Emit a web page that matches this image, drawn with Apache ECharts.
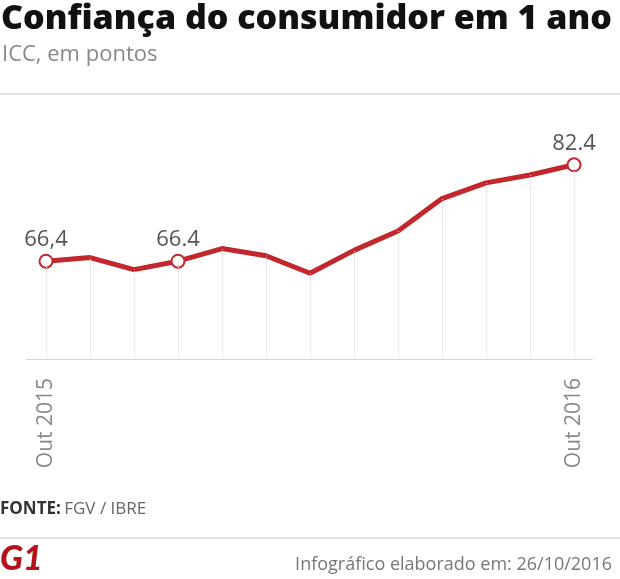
<!DOCTYPE html>
<html><head><meta charset="utf-8">
<script src="https://cdn.jsdelivr.net/npm/echarts@6/dist/echarts.min.js"></script>
<style>html,body{margin:0;padding:0;background:#fff}#c{width:620px;height:579px}</style>
</head><body><div id="c"></div>
<script>
const categories = ['Out 2015','Nov 2015','Dez 2015','Jan 2016','Fev 2016','Mar 2016','Abr 2016','Mai 2016','Jun 2016','Jul 2016','Ago 2016','Set 2016','Out 2016'];
const values = [66.4, 67.0, 65.0, 66.4, 68.5, 67.3, 64.4, 68.2, 71.4, 76.8, 79.4, 80.7, 82.4];
const pointLabels = ['66,4', null, null, '66.4', null, null, null, null, null, null, null, null, '82.4'];
const tickLabels = ['Out 2015','','','','','','','','','','','','Out 2016'];
const yMin = 50, yMax = 90;

const chart = echarts.init(document.getElementById('c'));
const red = '#c1272d';
chart.setOption({
  animation: false,
  grid: {left: 46, right: 46, top: 119, bottom: 219},
  xAxis: {
    type: 'category', data: categories, boundaryGap: false,
    axisLine: {show: false}, axisTick: {show: false}, splitLine: {show: false},
    axisLabel: {
      interval: 0, rotate: 90, margin: 18, color: '#888', fontSize: 21,
      fontFamily: 'Open Sans',
      formatter: (v, i) => tickLabels[i]
    }
  },
  yAxis: {type: 'value', min: yMin, max: yMax, show: false, splitLine: {show: false}},
  series: [{
    type: 'line', data: values.map((v, i) => ({
      value: v,
      symbolSize: pointLabels[i] ? 13 : 0,
      label: {show: !!pointLabels[i], formatter: pointLabels[i] || ''}
    })),
    symbol: 'circle', showAllSymbol: true,
    lineStyle: {color: red, width: 5},
    itemStyle: {color: '#fff', borderColor: red, borderWidth: 2},
    label: {position: 'top', distance: 3, color: '#555', fontSize: 22, fontFamily: 'Open Sans'},
    markLine: {
      silent: true, symbol: 'none', label: {show: false},
      lineStyle: {color: '#d8d8d8', type: 'dotted', width: 1},
      data: values.map((v, i) => [{coord: [i, yMin]}, {coord: [i, v]}])
    },
    z: 3
  }],
  graphic: [
    {type: 'text', left: 1, top: 2, style: {text: 'Confiança do consumidor em 1 ano', fontSize: 34, fontWeight: 800, fontFamily: 'Open Sans', fill: '#111'}},
    {type: 'text', left: 2, top: 44, style: {text: 'ICC, em pontos', fontSize: 22, fontFamily: 'Open Sans', fill: '#888'}},
    {type: 'rect', shape: {x: 0, y: 93, width: 620, height: 2}, style: {fill: '#e4e4e4'}},
    {type: 'rect', shape: {x: 26, y: 359, width: 567, height: 1}, style: {fill: '#d4d4d4'}},
    {type: 'text', left: 0, top: 501, style: {
      text: '{b|FONTE:} {n|FGV / IBRE}',
      rich: {b: {fontSize: 17, fontWeight: 'bold', fontFamily: 'Open Sans', fill: '#333'}, n: {fontSize: 17, fontFamily: 'Open Sans', fill: '#666'}}
    }},
    {type: 'rect', shape: {x: 0, y: 537, width: 620, height: 2}, style: {fill: '#e4e4e4'}},
    {type: 'text', left: 0, top: 542, style: {text: 'G1', fontSize: 34, fontWeight: 900, fontStyle: 'italic', fontFamily: 'Lato', fill: '#b3121a'}},
    {type: 'text', right: 8, top: 556, style: {text: 'Infográfico elaborado em: 26/10/2016', fontSize: 18, fontFamily: 'Open Sans', fill: '#777'}}
  ]
});
</script></body></html>
